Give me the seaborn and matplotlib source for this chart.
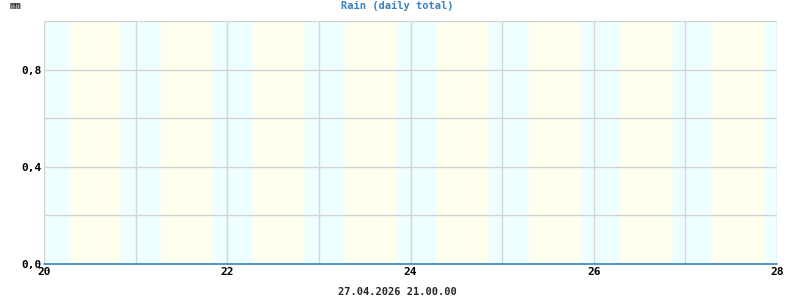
import matplotlib
matplotlib.use("Agg")
import matplotlib.pyplot as plt
import seaborn as sns
import numpy as np
import pandas as pd

# Data
days = [20, 21, 22, 23, 24, 25, 26, 27, 28]
rain_mm = [0.0, 0.0, 0.0, 0.0, 0.0, 0.0, 0.0, 0.0, 0.0]
sunrise = [0.26, 0.26, 0.265, 0.265, 0.265, 0.27, 0.27, 0.27]   # fraction of day
sunset = [0.86, 0.86, 0.865, 0.87, 0.875, 0.88, 0.885, 0.885]
y_ticks = [0.0, 0.4, 0.8]
y_tick_labels = ["0,0", "0,4", "0,8"]
x_ticks = [20, 22, 24, 26, 28]
title = "Rain (daily total)"
unit = "mm"
footer = "27.04.2026 21.00.00"

sns.set_theme(style="white")
plt.rcParams['font.family'] = ['DejaVu Sans Mono', 'DejaVu Sans']

fig = plt.figure(figsize=(8, 3), dpi=100)
ax = fig.add_axes([44/800, 36/300, (777-44)/800, (264-21)/300])

night = np.array([0xee, 0xff, 0xff]) / 255
dayc = np.array([0xff, 0xff, 0xee]) / 255

def span(a, b, c):
    ax.axvspan(a, b, color=c, lw=0, zorder=0)

fade = 0.04
steps = 4
start = days[0]
for i, d in enumerate(days[:-1]):
    sr = d + sunrise[i]
    ss = d + sunset[i]
    # night from start to sunrise
    span(start, sr, night)
    # gradient night->day
    for k in range(steps):
        t = (k + 0.5) / steps
        span(sr + fade * k / steps, sr + fade * (k + 1) / steps, night * (1 - t) + dayc * t)
    span(sr + fade, ss - fade, dayc)
    for k in range(steps):
        t = (k + 0.5) / steps
        span(ss - fade + fade * k / steps, ss - fade + fade * (k + 1) / steps, dayc * (1 - t) + night * t)
    start = ss
span(start, days[-1], night)

df = pd.DataFrame({"day": days, "rain": rain_mm})
sns.lineplot(data=df, x="day", y="rain", ax=ax, color="#3a80c0", lw=1.2, zorder=5, clip_on=False)

ax.set_xlim(days[0], days[-1])
ax.set_ylim(0, 1.0)
ax.set_xticks(days, minor=False)
ax.set_xticklabels([str(d) if d in x_ticks else "" for d in days])
ax.set_yticks([0.0, 0.2, 0.4, 0.6, 0.8, 1.0])
ax.set_yticklabels(["0,0", "", "0,4", "", "0,8", ""])
ax.grid(True, color="#d4d4d8", lw=1, zorder=1)
ax.set_axisbelow(False)
for s in ax.spines.values():
    s.set_visible(False)
ax.tick_params(axis="both", length=0, labelsize=8, pad=2)
for lab in ax.get_xticklabels() + ax.get_yticklabels():
    lab.set_fontweight("bold")
    lab.set_color("black")
ax.set_xlabel("")
ax.set_ylabel("")

fig.text(397/800, 1 - 6/300, title, ha="center", va="center", fontsize=7.5,
         color="#3a7fbf", fontweight="bold")
fig.text(10/800, 1 - 6/300, unit, ha="left", va="center", fontsize=7, fontweight="bold")
fig.text(397/800, 1 - 292/300, footer, ha="center", va="center", fontsize=7.5, fontweight="bold")

fig.savefig("out.png", dpi=100)
